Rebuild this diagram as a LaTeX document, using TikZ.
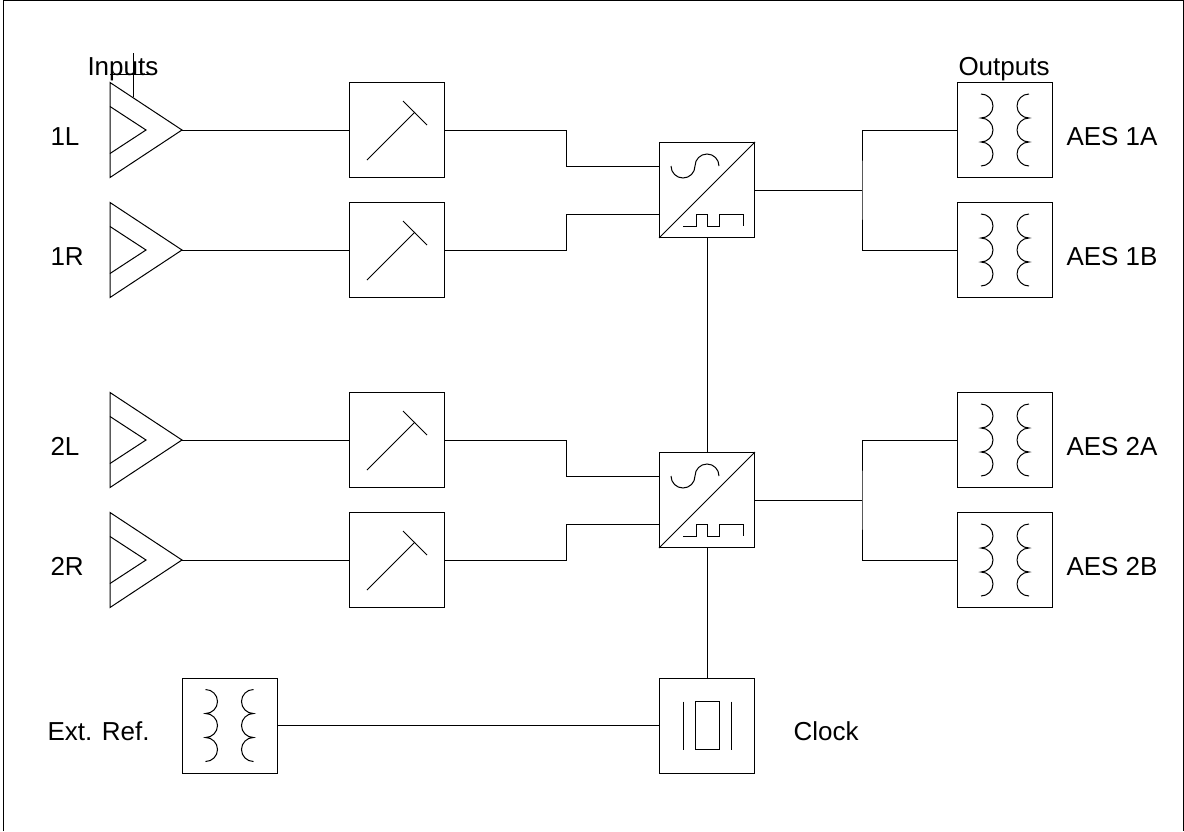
\documentclass[tikz,border=0pt]{standalone}
\usepackage{fontspec}
\setmainfont{Liberation Sans}
\usepackage{tikz}
\tikzset{every path/.style={line width=0.5pt}}
\tikzset{blk/.style={draw,minimum size=47.5pt,inner sep=0pt},
  lbl/.style={anchor=base west,inner sep=0pt,font=\fontsize{13}{15}\selectfont}}
% transformer coils inside a box
\newcommand\coils[1]{%
  \draw ([shift={(-24,-36)}]#1.center) arc[start angle=-90,end angle=90,radius=12]
    arc[start angle=-90,end angle=90,radius=12] arc[start angle=-90,end angle=90,radius=12];
  \draw ([shift={(24,-36)}]#1.center) arc[start angle=-90,end angle=-270,radius=12]
    arc[start angle=-90,end angle=-270,radius=12] arc[start angle=-90,end angle=-270,radius=12];
}
% converter symbol
\newcommand\adc[1]{%
  \draw (#1.south west) -- (#1.north east);
  \draw ([shift={(-36,-24)}]#1.center) arc[start angle=180,end angle=0,radius=12]
    arc[start angle=180,end angle=360,radius=12];
  \draw ([shift={(-24,36)}]#1.center) -- ++(13,0) -- ++(0,-12) -- ++(11,0) -- ++(0,12)
    -- ++(12,0) -- ++(0,-12) -- ++(24,0) -- ++(0,12);
}
\begin{document}
\begin{tikzpicture}[x=0.5pt,y=-0.5pt]
\useasboundingbox (0,0) rectangle (1184,831);
\draw (3,831) -- (3,0.5) -- (1183,0.5) -- (1183,831);
\node[lbl] (inp) at (87,75) {Inputs};
\node[lbl] (outp) at (958,75) {Outputs};
\draw (110,74) -- (153,74);
\draw (133,53) -- (133,97);
% input channels
\foreach \r/\y in {1L/130,1R/250,2L/440,2R/560}{
  \node[lbl] (txt\r) at (50,\y+15) {\r};
  \draw (110,\y-47.5) -- (182,\y) coordinate (amp\r) -- (110,\y+47.5) -- cycle;
  \draw (110,\y-23.5) -- (146,\y) -- (110,\y+23.5);
  \node[blk] (lim\r) at (396.5,\y) {};
  \draw ([shift={(-29.5,30)}]lim\r.center) -- ++(48,-48);
  \draw ([shift={(6.5,-29)}]lim\r.center) -- ++(24,24);
  \draw (amp\r) -- (lim\r);
}
% converters
\node[blk] (c1) at (707,190) {};
\node[blk] (c2) at (707,500) {};
\adc{c1}
\adc{c2}
\draw (lim1L.east) -- ++(122,0) |- ([yshift=12pt]c1.west);
\draw (lim1R.east) -- ++(122,0) |- ([yshift=-12pt]c1.west);
\draw (lim2L.east) -- ++(122,0) |- ([yshift=12pt]c2.west);
\draw (lim2R.east) -- ++(122,0) |- ([yshift=-12pt]c2.west);
% outputs
\foreach \t/\y/\txt in {t1A/130/AES 1A,t1B/250/AES 1B,t2A/440/AES 2A,t2B/560/AES 2B}{
  \node[blk] (\t) at (1005,\y) {};
  \coils{\t}
  \node[lbl] (n\t) at (1066,\y+15) {\txt};
}
\coordinate (j1) at (862,190);
\coordinate (j2) at (862,500);
\draw (c1.east) -- (j1);
\draw (t1A.west) -| (j1) |- (t1B.west);
\draw (c2.east) -- (j2);
\draw (t2A.west) -| (j2) |- (t2B.west);
% clock
\node[blk] (clk) at (707,725.5) {};
\draw ([shift={(-24,-24)}]clk.center) -- ++(0,48);
\draw ([shift={(24,-24)}]clk.center) -- ++(0,48);
\draw ([shift={(-12,-24)}]clk.center) rectangle ++(24,48);
\node[lbl] (nclk) at (793,740.5) {Clock};
\node[blk] (ext) at (229.5,725.5) {};
\coils{ext}
\node[lbl] (next) at (47,740.5) {Ext. Ref.};
\draw (c1.south) -- (c2.north);
\draw (c2.south) -- (clk.north);
\draw (ext.east) -- (clk.west);
\end{tikzpicture}
\end{document}
